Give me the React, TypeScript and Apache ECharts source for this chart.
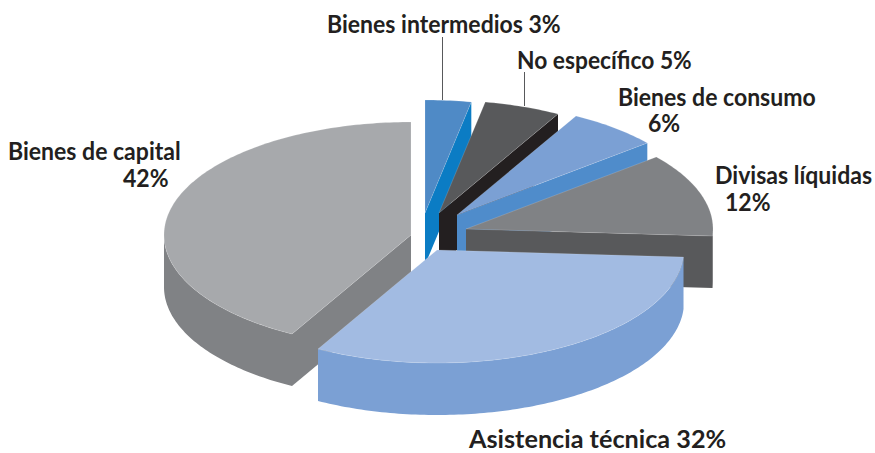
import React, { useEffect, useRef } from "react";
import * as echarts from "echarts";

// Data, clockwise from 12 o'clock
const categories = ["Bienes intermedios", "No específico", "Bienes de consumo", "Divisas líquidas", "Asistencia técnica", "Bienes de capital"];
const shares = [3, 5, 6, 12, 32, 42];

// Styling and layout, per slice in the same order
const topColors = ["#4f8ac6", "#58595b", "#7ba0d4", "#808285", "#a2bbe2", "#a7a9ac"];
const wallColors = ["#0b7cc4", "#231f20", "#4f8ccb", "#58595b", "#7ba0d4", "#808285"];
const tips = [[425, 213], [439, 213], [457, 215], [466, 229], [437, 250], [411, 235]];
const drawOrder = [0, 1, 2, 3, 5, 4];
const RX = 247, RY = 113, DEPTH = 52;
const FONT = "Lato";
const labelSizes = [24.5, 24.5, 24.5, 24.5, 25, 24.5];
const labelStretch = [0.94, 0.93, 0.94, 0.94, 1.01, 0.94];
const labelSpots: [string, number, number][][] = [
  [["{c} {v}%", 327, 24]],
  [["{c} {v}%", 517, 60]],
  [["{c}", 618, 97], ["{v}%", 648, 123]],
  [["{c}", 715, 175], ["{v}%", 725, 202]],
  [["{c} {v}%", 469, 438]],
  [["{c}", 8, 151], ["{v}%", 123, 178]],
];
const leaders = [[442.5, 37, 100], [524.5, 72, 106], null, null, null, null];

const total = shares.reduce((a, b) => a + b, 0);
const startPct = shares.map((_, i) => shares.slice(0, i).reduce((a, b) => a + b, 0));

const pt = (tip: number[], deg: number, dy = 0): number[] => {
  const r = (deg * Math.PI) / 180;
  return [tip[0] + RX * Math.sin(r), tip[1] - RY * Math.cos(r) + dy];
};
const arc = (tip: number[], a: number, b: number, dy = 0): number[][] => {
  const n = Math.max(2, Math.ceil(Math.abs(b - a)));
  const out: number[][] = [];
  for (let k = 0; k <= n; k++) out.push(pt(tip, a + ((b - a) * k) / n, dy));
  return out;
};

const renderItem = (_p: any, api: any) => {
  const i = api.value(0);
  const a = (api.value(1) / total) * 360;
  const b = ((api.value(1) + api.value(2)) / total) * 360;
  const tip = tips[i];
  const wall = wallColors[i];
  const children: any[] = [];
  const poly = (points: number[][], style: any) => children.push({ type: "polygon", shape: { points }, style });
  // cut faces that look toward the viewer
  if (b > 0 && b < 180) {
    const e = pt(tip, b);
    poly([tip, e, [e[0], e[1] + DEPTH], [tip[0], tip[1] + DEPTH]], { fill: wall });
  }
  if (a > 180 && a < 360) {
    const e = pt(tip, a);
    poly([tip, e, [e[0], e[1] + DEPTH], [tip[0], tip[1] + DEPTH]], { fill: wall });
  }
  // outer wall: only the front half of the ellipse shows
  const fa = Math.max(a, 90), fb = Math.min(b, 270);
  if (fb > fa) {
    poly([...arc(tip, fa, fb), ...arc(tip, fb, fa, DEPTH)], { fill: wall });
  }
  // top face
  poly([tip, ...arc(tip, a, b)], { fill: topColors[i], stroke: "rgba(255,255,255,0.22)", lineWidth: 0.7 });
  // leader
  const l = leaders[i];
  if (l) children.push({ type: "line", shape: { x1: l[0], y1: l[1], x2: l[0], y2: l[2] }, style: { stroke: "#58595b", lineWidth: 1 } });
  // labels
  labelSpots[i].forEach(([tpl, x, y]) => {
    children.push({
      type: "text",
      x,
      y,
      scaleX: labelStretch[i],
      style: {
        text: tpl.replace("{c}", categories[i]).replace("{v}", String(shares[i])),
        fontFamily: FONT,
        fontWeight: 700,
        fontSize: labelSizes[i],
        fill: "#231f20",
        align: "left",
        verticalAlign: "middle",
      },
    });
  });
  return { type: "group", children };
};

export default function App() {
  const ref = useRef<HTMLDivElement>(null);
  useEffect(() => {
    const chart = echarts.init(ref.current!, null, { renderer: "svg" });
    chart.setOption({
      animation: false,
      backgroundColor: "#ffffff",
      series: [
        {
          type: "custom",
          coordinateSystem: "none",
          silent: true,
          renderItem,
          data: drawOrder.map((i) => [i, startPct[i], shares[i]]),
        },
      ],
    });
    return () => chart.dispose();
  }, []);
  return <div ref={ref} style={{ position: "absolute", left: 0, top: 0, width: 875, height: 453 }} />;
}
